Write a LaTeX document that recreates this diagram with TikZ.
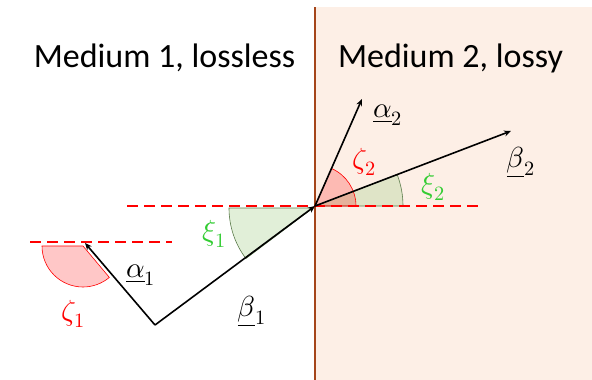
\documentclass[tikz,border=0pt]{standalone}
\usepackage{fontspec}
\usepackage{unicode-math}
\setmainfont{Carlito}
\setmathfont{Latin Modern Math}
\usetikzlibrary{arrows.meta}
\definecolor{paneC}{HTML}{FDEFE6}
\definecolor{wallC}{HTML}{A5451A}
\definecolor{lblgreen}{HTML}{33CC33}
\definecolor{secgreen}{HTML}{A9D18E}
\definecolor{edgegreen}{HTML}{5A7A4A}
\newcommand{\ulvec}[2]{\smash{\underline{#1}}_{#2}}
\tikzset{
  redline/.style={red, line width=1.8pt, dash pattern=on 11pt off 6pt},
  vec/.style={black, line width=1.6pt, -{Stealth[length=7pt,width=6pt]}},
  redsec/.style={fill=red, fill opacity=0.22, draw=red, draw opacity=1, line width=0.6pt},
  greensec/.style={fill=secgreen, fill opacity=0.35, draw=edgegreen, draw opacity=1, line width=0.6pt},
  title/.style={font=\fontsize{34}{40}\selectfont, anchor=base},
  mlabel/.style={font=\fontsize{29}{34}\selectfont, inner sep=0pt},
  vlabel/.style={font=\fontsize{29}{34}\selectfont, inner sep=0pt, anchor=base},
}
\begin{document}
\begin{tikzpicture}[x=1pt,y=-1pt]
\useasboundingbox (0,0) rectangle (592,380);
\fill[paneC] (315,7) rectangle (592,380);
\draw[wallC, line width=2pt] (315,7) -- (315,380);

\node[title] (t1) at (164.5,67) {Medium 1, lossless};
\node[title] (t2) at (450.5,67) {Medium 2, lossy};

\coordinate (O) at (315,206);
\coordinate (A1) at (85,243);
\coordinate (S) at (155,325);
\coordinate (A2) at (362,99);
\coordinate (B2) at (511,131);
\coordinate (L1a) at (30,242);
\coordinate (L1b) at (172,242);
\coordinate (L2a) at (127,206);
\coordinate (L2b) at (482,206);

% sectors (y axis flipped: angles are negated)
\path[redsec] (83,246) -- ++(-41,0) arc[start angle=180, end angle=50, radius=41] -- cycle;
\path[greensec] (313,208) -- ++(-84,0) arc[start angle=180, end angle=143, radius=84] -- cycle;
\path[greensec] (O) -- ++(88,0) arc[start angle=0, end angle=-20.9, radius=88] -- cycle;
\path[redsec] (O) -- ++(41,0) arc[start angle=0, end angle=-66.3, radius=41] -- cycle;

% dashed lines
\draw[redline] (L1a) -- (L1b);
\draw[redline] (L2a) -- (L2b);

% vectors
\draw[vec] (S) -- (A1);
\draw[vec] (S) -- (O);
\draw[vec] (O) -- (A2);
\draw[vec] (O) -- (B2);

% labels
\node[vlabel] (la1) at (141,277) {$\ulvec{\alpha}{1}$};
\node[vlabel] (lb1) at (252,316) {$\ulvec{\beta}{1}$};
\node[vlabel] (la2) at (388,117) {$\ulvec{\alpha}{2}$};
\node[vlabel] (lb2) at (521,167) {$\ulvec{\beta}{2}$};
\node[mlabel, text=red] (lz1) at (73,314) {$\zeta_1$};
\node[mlabel, text=red] (lz2) at (364,162) {$\zeta_2$};
\node[mlabel, text=lblgreen] (lx1) at (214,234) {$\xi_1$};
\node[mlabel, text=lblgreen] (lx2) at (433,187) {$\xi_2$};
\end{tikzpicture}
\end{document}
